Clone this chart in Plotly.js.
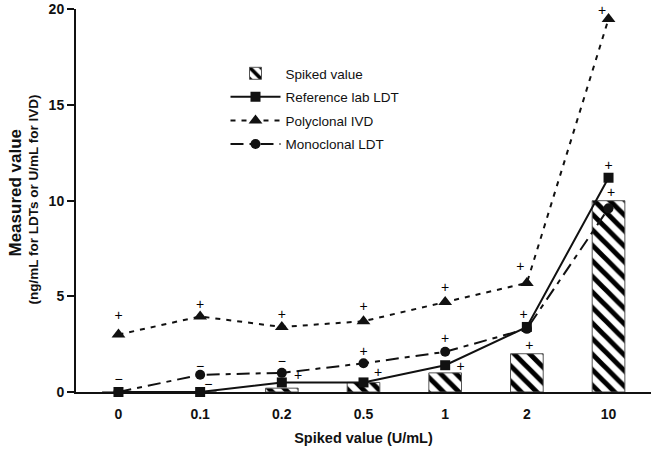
<!DOCTYPE html>
<html>
<head>
<meta charset="utf-8">
<script src="https://cdn.plot.ly/plotly-3.0.1.min.js"></script>
<style>
  body { margin: 0; background: #fff; }
  #chart { width: 651px; height: 449px; }
</style>
</head>
<body>
<div id="chart"></div>
<script>
// spiked concentrations (U/mL), shown as categories on the x axis
var categories = ["0", "0.1", "0.2", "0.5", "1", "2", "10"];
var spiked = [0, 0, 0.2, 0.5, 1, 2, 10];

var referenceLab = [0, 0, 0.5, 0.5, 1.4, 3.4, 11.2];
var polyclonal = [3.0, 3.95, 3.4, 3.7, 4.7, 5.7, 19.5];
var monoclonal = [0, 0.9, 1.0, 1.5, 2.1, 3.3, 9.6];

// the little + / - flags printed next to the points
var flagX = [0, 0, 0.18, 1, 1, 1.1, 2, 2, 2.2, 3, 3, 3.18, 4, 4, 4.19, 4.92, 4.96, 5.03, 5.92, 6, 6.03];
var flagY = [3.95, 0.6, -0.35, 4.5, 1.3, 0.35, 4.0, 1.55, 0.8, 4.4, 2.05, 0.95, 5.4, 2.75, 1.3, 6.5, 4.0, 2.4, 19.9, 11.8, 10.4];
var flagText = ["+", "\u2212", "\u2212", "+", "\u2212", "\u2212", "+", "\u2212", "+", "+", "+", "+", "+", "+", "+", "+", "+", "+", "+", "+", "+"];

var idx = categories.map((c, i) => i);
var font = "Liberation Sans, Arial, sans-serif";

var bars = {
  name: "Spiked value",
  legendgroup: "a",
  type: "bar",
  x: idx,
  y: spiked,
  width: 0.4,
  marker: {
    color: "#fff",
    line: {color: "#555", width: 1},
    pattern: {shape: "\\", fgcolor: "#000", bgcolor: "#fff", size: 11, solidity: 0.45}
  }
};

var ref = {
  name: "Reference lab LDT",
  legendgroup: "b",
  type: "scatter",
  mode: "lines+markers",
  x: idx,
  y: referenceLab,
  line: {color: "#111", width: 2},
  marker: {symbol: "square", size: 10, color: "#111"},
  cliponaxis: false
};

var poly = {
  name: "Polyclonal IVD",
  legendgroup: "c",
  type: "scatter",
  mode: "lines+markers",
  x: idx,
  y: polyclonal,
  line: {color: "#111", width: 2, dash: "5px,6px"},
  marker: {symbol: "triangle-up", size: 12, color: "#111"},
  cliponaxis: false
};

var mono = {
  name: "Monoclonal LDT",
  legendgroup: "d",
  type: "scatter",
  mode: "lines+markers",
  x: idx,
  y: monoclonal,
  line: {color: "#111", width: 2, dash: "13px,6px,5px,6px"},
  marker: {symbol: "circle", size: 10, color: "#111"},
  cliponaxis: false
};

var flags = {
  type: "scatter",
  mode: "text",
  x: flagX,
  y: flagY,
  text: flagText,
  textposition: "middle center",
  textfont: {family: font, size: 14, color: "#000"},
  showlegend: false,
  hoverinfo: "skip",
  cliponaxis: false
};

var layout = {
  width: 651,
  height: 449,
  margin: {l: 76, r: 0, t: 9, b: 57},
  paper_bgcolor: "#fff",
  plot_bgcolor: "#fff",
  font: {family: font, color: "#111"},
  showlegend: true,
  legend: {
    x: 0.26, y: 0.872, xanchor: "left", yanchor: "top",
    bgcolor: "rgba(0,0,0,0)",
    font: {family: font, size: 13.5, color: "#111"},
    itemwidth: 50,
    tracegroupgap: 3
  },
  xaxis: {
    range: [-0.52, 6.52],
    tickvals: idx,
    ticktext: categories,
    showgrid: false,
    zeroline: false,
    showline: true,
    linecolor: "#111",
    linewidth: 2,
    ticks: "",
    ticklabelstandoff: 8,
    tickfont: {family: font, size: 14, color: "#111", weight: "bold"},
    title: {text: "<b>Spiked value (U/mL)</b>", font: {family: font, size: 14.5, color: "#111"}, standoff: 12}
  },
  yaxis: {
    range: [0, 20.02],
    tickvals: [0, 5, 10, 15, 20],
    showgrid: false,
    zeroline: false,
    showline: true,
    linecolor: "#111",
    linewidth: 2,
    ticks: "outside",
    ticklen: 7,
    tickwidth: 2,
    tickcolor: "#111",
    ticklabeloverflow: "allow",
    tickfont: {family: font, size: 14, color: "#111", weight: "bold"}
  },
  annotations: [
    {
      text: "<b>Measured value</b>", textangle: -90,
      xref: "paper", yref: "paper", x: 0, y: 0.5, xanchor: "center", yanchor: "middle",
      xshift: -61, yshift: 8,
      showarrow: false, font: {family: font, size: 17, color: "#111"}
    },
    {
      text: "<b>(ng/mL for LDTs or U/mL for IVD)</b>", textangle: -90,
      xref: "paper", yref: "paper", x: 0, y: 0.5, xanchor: "center", yanchor: "middle",
      xshift: -43, yshift: 1,
      showarrow: false, font: {family: font, size: 13.5, color: "#111"}
    }
  ]
};

Plotly.newPlot("chart", [bars, ref, poly, mono, flags], layout, {displayModeBar: false, staticPlot: true});
</script>
</body>
</html>
